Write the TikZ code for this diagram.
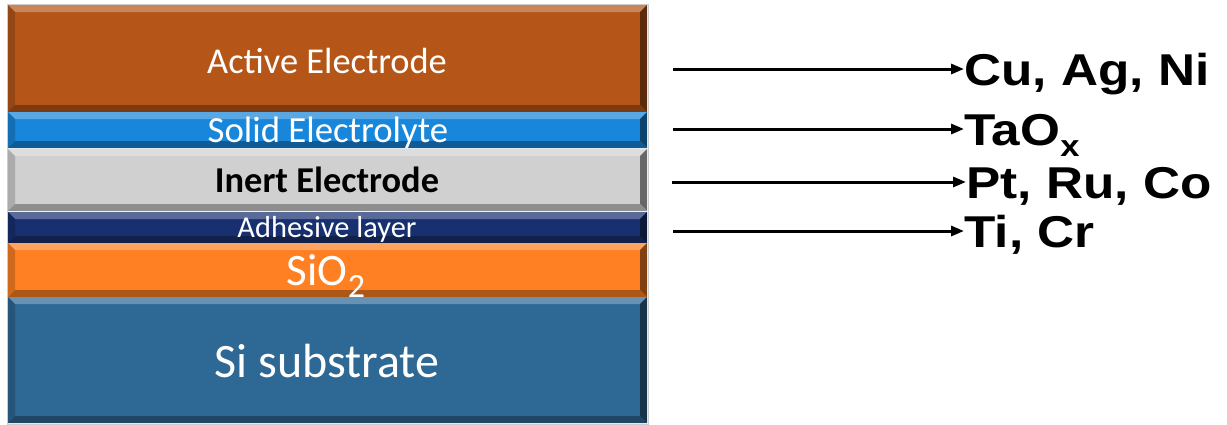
\documentclass[tikz,border=0pt]{standalone}
\usepackage{fontspec}
\usepackage{xcolor}
\usepackage{tikz}
\usetikzlibrary{arrows.meta}

\newfontfamily\calib{Carlito}
\newfontfamily\arialw[FakeStretch=1.15]{Liberation Sans}

\definecolor{actbrown}{RGB}{181,86,24}
\definecolor{elyblue}{RGB}{24,134,218}
\definecolor{inertgray}{RGB}{208,208,208}
\definecolor{adhnavy}{RGB}{24,48,112}
\definecolor{oxorange}{RGB}{255,128,34}
\definecolor{subblue}{RGB}{46,104,148}

% one bevelled slab of the stack: top, bottom, colour
\newcommand{\slab}[3]{%
	\fill[#3] (8,#1) rectangle (647,#2);
	\fill[#3!72!white] (8,#1) -- (647,#1) -- (640,#1+7) -- (15,#1+7) -- cycle;
	\fill[#3!82!black] (8,#1) -- (15,#1+7) -- (15,#2-7) -- (8,#2) -- cycle;
	\fill[#3!50!black] (647,#1) -- (647,#2) -- (640,#2-7) -- (640,#1+7) -- cycle;
	\fill[#3!68!black] (8,#2) -- (15,#2-7) -- (640,#2-7) -- (647,#2) -- cycle;
}

\begin{document}
\begin{tikzpicture}[x=0.5pt,y=-0.5pt,
		layertext/.style={anchor=base,inner sep=0pt,text=white,font=\calib},
		metal/.style={anchor=west,inner sep=0pt,text height=16pt,text depth=0pt,font=\arialw\bfseries\fontsize{22.3}{24}\selectfont},
		feed/.style={line width=1.5pt,-{Triangle[length=6.5pt,width=5pt]}}]
	\useasboundingbox (0,0) rectangle (1227,424);

	\draw[gray!40,thin] (7,4) rectangle (648,424);
	\slab{5}{112}{actbrown}
	\slab{112}{148}{elyblue}
	\slab{149}{211}{inertgray}
	\slab{212}{243}{adhnavy}
	\slab{243}{297}{oxorange}
	\slab{297}{423}{subblue}

	\node[layertext,font=\calib\fontsize{18.2}{20}\selectfont] (active) at (327,73) {Active Electrode};
	\node[layertext,font=\calib\fontsize{18.4}{20}\selectfont] (solid) at (328,142) {Solid Electrolyte};
	\node[layertext,text=black,font=\calib\bfseries\fontsize{18.2}{20}\selectfont] (inert) at (327,192) {Inert Electrode};
	\node[layertext,font=\calib\fontsize{15.2}{16}\selectfont] (adhesive) at (327,237) {Adhesive layer};
	\node[layertext,font=\calib\fontsize{22.5}{24}\selectfont] (oxide) at (326,285) {SiO\raisebox{-6pt}{\fontsize{17}{18}\selectfont 2}};
	\node[layertext,font=\calib\fontsize{24}{26}\selectfont] (substrate) at (327,377) {Si substrate};

	\coordinate (s1) at (673,69);
	\coordinate (s2) at (673,129);
	\coordinate (s3) at (672,182);
	\coordinate (s4) at (673,231);

	\node[metal] (cu) at (964,69) {Cu, Ag, Ni};
	\node[metal] (ta) at (964,129) {TaO\raisebox{-0.25em}{\fontsize{15}{16}\selectfont x}};
	\node[metal] (pt) at (966,182) {Pt, Ru, Co};
	\node[metal] (ti) at (964,231) {Ti, Cr};

	\draw[feed] (s1) -- (cu.west);
	\draw[feed] (s2) -- (ta.west);
	\draw[feed] (s3) -- (pt.west);
	\draw[feed] (s4) -- (ti.west);
\end{tikzpicture}
\end{document}
